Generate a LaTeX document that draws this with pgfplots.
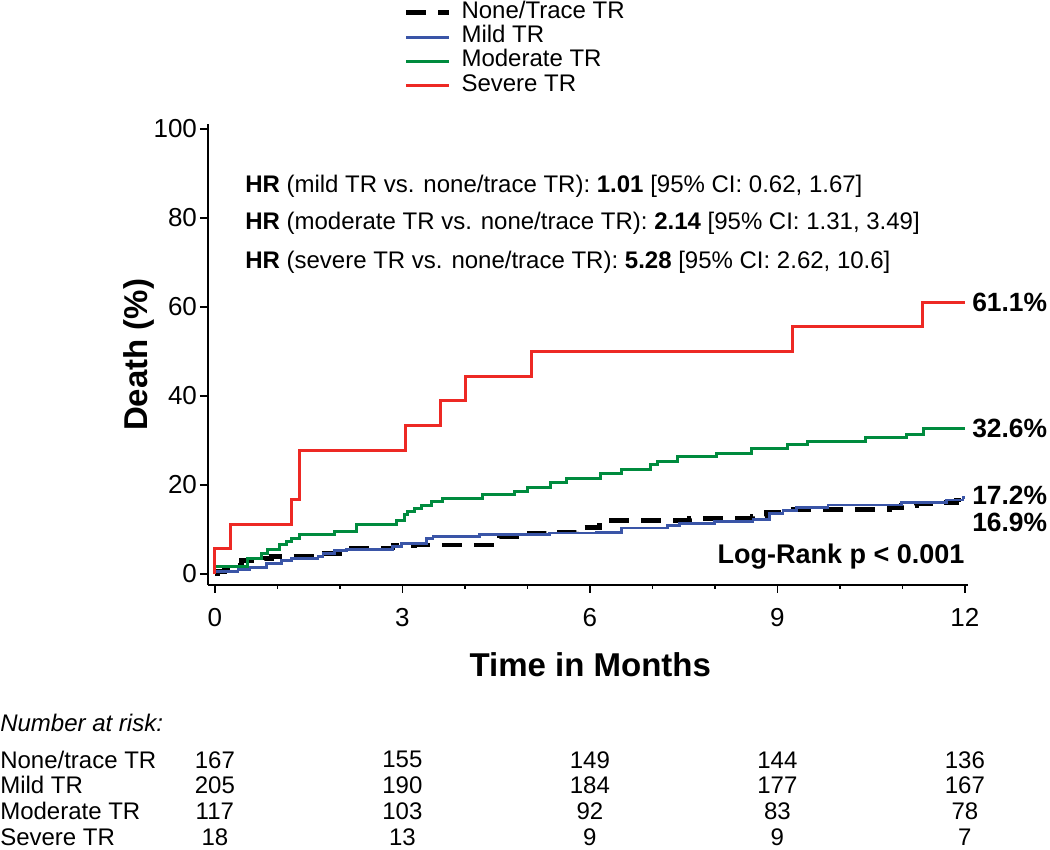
\documentclass[border=0pt]{standalone}
\usepackage{fontspec}
\setmainfont{Liberation Sans}
\usepackage{pgfplots}
\pgfplotsset{compat=1.18}

\definecolor{sevred}{RGB}{237,41,36}
\definecolor{modgreen}{RGB}{0,139,62}
\definecolor{mildblue}{RGB}{58,85,167}

\newcommand{\risk}{\fontsize{12}{12}\selectfont}

\begin{document}
\begin{tikzpicture}
\begin{axis}[
    name=km,
    scale only axis,
    width=380pt, height=230.25pt,
    xmin=-0.11, xmax=12.05, ymin=-2.5, ymax=101,
    axis lines=left,
    axis line style={-, line width=0.8pt, black},
    xtick={0,3,6,9,12},
    minor xtick={1,2,4,5,7,8,10,11},
    ytick={0,20,...,100},
    tick align=outside,
    major tick length=4pt, minor tick length=2pt,
    tick style={line width=0.8pt, black},
    /pgf/number format/assume math mode=true,
    tick label style={font=\fontsize{13}{15}\selectfont},
    xticklabel style={yshift=-4pt},
    yticklabel style={xshift=2pt},
    xlabel={Time in Months},
    ylabel={Death (\%)},
    xlabel style={font=\bfseries\fontsize{16.5}{18}\selectfont,
        at={(axis description cs:0.503,-0.174)}, anchor=center},
    ylabel style={font=\bfseries\fontsize{16.5}{18}\selectfont,
        at={(axis description cs:-0.091,0.5)}, anchor=center},
    clip=false,
    legend cell align=left,
    legend image code/.code={\draw[#1] plot coordinates {(0pt,0pt) (21.5pt,0pt)};},
    legend style={draw=none, fill=none, inner sep=0pt,
        at={(axis description cs:0.257,1.27)}, anchor=north west,
        font=\fontsize{12}{12}\selectfont,
        row sep=0pt, column sep=5pt,
        nodes={inner sep=0pt, text height=8.8pt, text depth=3.4pt}},
]

% none/trace TR
\addplot[const plot, black, line width=2.4pt, dash pattern=on 10pt off 6pt] coordinates {
    (0,0) (0.05,0.6) (0.16,1.2) (0.3,2.0) (0.42,3.0) (0.8,3.5) (0.9,3.9)
    (1.63,4.6) (2.11,5.8) (2.85,6.3) (3.2,6.5) (4.5,8.0) (4.55,8.4)
    (4.83,9.0) (5.3,9.4) (5.79,10.4) (6.16,12.0) (7.6,12.5) (8.6,12.9)
    (8.83,13.8) (9.07,14.4) (10.8,14.8) (10.99,15.3) (11.23,15.7)
    (11.57,16.0) (11.87,16.6) (11.98,16.9) (12,16.9)
};
\addlegendentry{None/Trace TR}

% mild TR
\addplot[const plot, mildblue, line width=1.4pt] coordinates {
    (0,0) (0,0.5) (0.37,1.0) (0.55,1.5) (0.82,2.4) (1.07,3.0) (1.23,3.5)
    (1.65,3.9) (1.73,4.6) (1.92,5.2) (2.11,5.4) (2.84,6.1) (2.99,6.9)
    (3.39,8.0) (3.49,8.4) (4.24,8.8) (5.36,9.2) (6.1,9.3) (6.51,10.3)
    (7.24,10.8) (7.44,11.4) (8.0,11.8) (8.61,12.3) (8.88,13.6) (9.09,14.2)
    (9.31,15.0) (9.81,15.5) (10.99,16.0) (11.71,16.6) (11.97,17.2) (12,17.2)
};
\addlegendentry{Mild TR}

% moderate TR
\addplot[const plot, modgreen, line width=1.5pt] coordinates {
    (0,0) (0,1.7) (0.53,3.5) (0.75,4.6) (0.85,5.4) (1.04,6.5) (1.14,7.3)
    (1.23,8.0) (1.35,8.8) (1.92,9.5) (2.26,11.0) (2.91,12.1) (3.04,13.3)
    (3.09,14.0) (3.2,14.8) (3.31,15.3) (3.46,16.3) (3.64,16.9) (4.29,17.8)
    (4.8,18.5) (5.0,19.5) (5.37,20.5) (5.63,21.4) (6.17,22.6) (6.51,23.5)
    (6.97,24.5) (7.09,25.3) (7.40,26.3) (8.02,27.1) (8.59,28.1) (9.17,29.0)
    (9.48,29.7) (10.41,30.7) (11.07,31.4) (11.33,32.6) (12,32.6)
};
\addlegendentry{Moderate TR}

% severe TR
\addplot[const plot, sevred, line width=1.5pt] coordinates {
    (0,0) (0,5.6) (0.25,11.1) (1.22,16.7) (1.35,27.8) (3.05,33.3)
    (3.61,38.9) (4.01,44.4) (5.07,50.0) (9.24,55.6) (11.32,61.1) (12,61.1)
};
\addlegendentry{Severe TR}

% hazard ratios
\begin{scope}[every node/.style={anchor=west, inner sep=0pt, font=\fontsize{12}{14}\selectfont}]
\node at (axis cs:0.48,87.2) {\textbf{HR} (mild TR vs. none/trace TR): \textbf{1.01} [95\% CI: 0.62, 1.67]};
\node at (axis cs:0.48,78.7) {\textbf{HR} (moderate TR vs. none/trace TR): \textbf{2.14} [95\% CI: 1.31, 3.49]};
\node at (axis cs:0.48,70.1) {\textbf{HR} (severe TR vs. none/trace TR): \textbf{5.28} [95\% CI: 2.62, 10.6]};
\end{scope}

\node[anchor=east, inner sep=0pt, font=\bfseries\fontsize{13.5}{15}\selectfont] at (axis cs:12,3.8) {Log-Rank p < 0.001};

% end-point labels
\begin{scope}[every node/.style={anchor=west, inner sep=0pt, xshift=3.5pt, font=\bfseries\fontsize{13.2}{15}\selectfont}]
\node at (axis cs:12,61.1) {61.1\%};
\node at (axis cs:12,32.6) {32.6\%};
\node at (axis cs:12,17.7) {17.2\%};
\node at (axis cs:12,11.6) {16.9\%};
\end{scope}

% number at risk
\node[anchor=west, inner sep=0pt, font=\itshape\risk] at (axis cs:-3.44,-33.5) {Number at risk:};
\begin{scope}[every node/.style={anchor=west, inner sep=0pt, font=\risk}]
\node at (axis cs:-3.44,-41.8) {None/trace TR};
\node at (axis cs:-3.44,-47.4) {Mild TR};
\node at (axis cs:-3.44,-53.3) {Moderate TR};
\node at (axis cs:-3.44,-59.1) {Severe TR};
\end{scope}
\begin{scope}[every node/.style={anchor=center, inner sep=0pt, font=\risk}]
\node at (axis cs:0,-41.8) {167};  \node at (axis cs:3,-41.8) {155};
\node at (axis cs:6,-41.8) {149};  \node at (axis cs:9,-41.8) {144};
\node at (axis cs:12,-41.8) {136};
\node at (axis cs:0,-47.4) {205};  \node at (axis cs:3,-47.4) {190};
\node at (axis cs:6,-47.4) {184};  \node at (axis cs:9,-47.4) {177};
\node at (axis cs:12,-47.4) {167};
\node at (axis cs:0,-53.3) {117};  \node at (axis cs:3,-53.3) {103};
\node at (axis cs:6,-53.3) {92};   \node at (axis cs:9,-53.3) {83};
\node at (axis cs:12,-53.3) {78};
\node at (axis cs:0,-59.1) {18};   \node at (axis cs:3,-59.1) {13};
\node at (axis cs:6,-59.1) {9};    \node at (axis cs:9,-59.1) {9};
\node at (axis cs:12,-59.1) {7};
\end{scope}
\end{axis}
\pgfresetboundingbox
\path ([shift={(-104pt,-132.5pt)}]km.south west) rectangle ++(525pt,425pt);
\end{tikzpicture}
\end{document}
